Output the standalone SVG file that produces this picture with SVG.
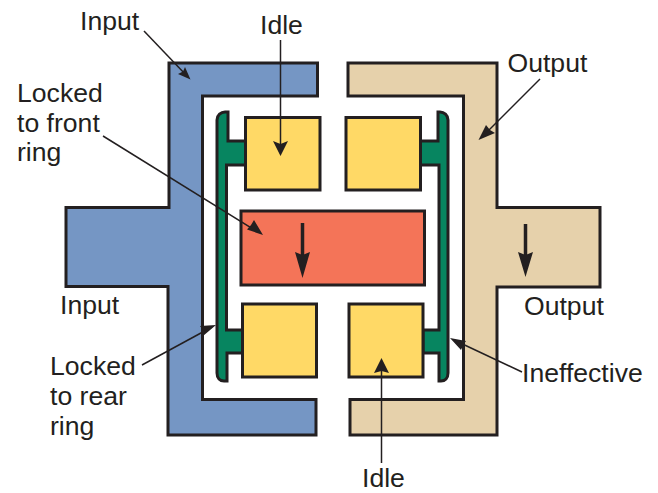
<svg xmlns="http://www.w3.org/2000/svg" width="658" height="493" viewBox="0 0 658 493">
<style>
.s{stroke:#231f20;stroke-width:3;stroke-linejoin:miter}
.y{fill:#ffd966}
.g{fill:#078560}
.l{stroke:#231f20;stroke-width:1.5;fill:none}
.h{fill:#231f20;stroke:none}
.b{stroke:#231f20;stroke-width:3.500;fill:none}
text{font-family:"Liberation Sans",Arial,sans-serif;font-size:26.600px;fill:#231f20}
</style>
<rect width="658" height="493" fill="#fff"/>
<g id="input-shaft"><path class="s" fill="#7596c4" d="M169 63H317.500V96H202.500V399.500H316V435H168V286.500H66V207.500H169Z"/></g>
<g id="output-shaft"><path class="s" fill="#e6d1ab" d="M348 63H497V207.500H600V287H497V435H350V399.500H463.500V96H348Z"/></g>
<g id="left-ring"><path class="s g" d="M228 112V141H245.500V165H226.500V330H242.500V353H227V381H224C220 381 217 378 217 373V120C217 115 221 112 225 112Z"/></g>
<g id="right-ring"><path class="s g" d="M438 112V141H420.500V165H439V330H423V353H439V381H441C445 381 448 378 448 373V120C448 115 444 112 440 112Z"/></g>
<g id="idle-top-left"><rect class="s y" x="245.500" y="117.500" width="74.500" height="72.500"/></g>
<g id="idle-top-right"><rect class="s y" x="346" y="117.500" width="74.500" height="72.500"/></g>
<g id="idle-bottom-left"><rect class="s y" x="242.500" y="304" width="74" height="73"/></g>
<g id="idle-bottom-right"><rect class="s y" x="349" y="304" width="74" height="73"/></g>
<g id="carrier"><rect class="s" fill="#f47458" x="241" y="211" width="183.500" height="74"/></g>
<g id="connectors">
<path class="l" d="M144 31L186 75"/><path class="h" d="M190.500 79.500L178 74L183 71.500L185 67Z"/>
<path class="l" d="M103 136L258 232"/><path class="h" d="M263 235L247 229.500L251 225L254 220Z"/>
<path class="l" d="M280.500 40V150"/><path class="h" d="M280.500 156L273 141L280.500 144L288 141Z"/>
<path class="l" d="M142 365L212 327"/><path class="h" d="M216 325L203 336L203 330L200 326Z"/>
<path class="l" d="M540 79L482 137"/><path class="h" d="M478.500 140L486 125L490 130L495 133Z"/>
<path class="l" d="M522 372L454 340"/><path class="h" d="M450 338L466 341L463 345.500L461 350Z"/>
<path class="l" d="M381.500 463V365"/><path class="h" d="M381.500 358L389 373L381.500 371L374 373Z"/>
<path class="b" d="M302.500 223V255"/><path class="h" d="M302.500 278L295 252L302.500 255L310 252Z"/>
<path class="b" d="M525.500 224V255"/><path class="h" d="M525.500 277L518 252L525.500 255L533 252Z"/>
</g>
<g id="labels">
<text x="80" y="29.500">Input</text>
<text x="260" y="34">Idle</text>
<text x="507.500" y="71.500">Output</text>
<text x="17" y="102">Locked</text>
<text x="17" y="132">to front</text>
<text x="17" y="161">ring</text>
<text x="60" y="313.500">Input</text>
<text x="524" y="315">Output</text>
<text x="50" y="375">Locked</text>
<text x="50" y="405">to rear</text>
<text x="50" y="435">ring</text>
<text x="522" y="382">Ineffective</text>
<text x="362" y="487">Idle</text>
</g>
</svg>
